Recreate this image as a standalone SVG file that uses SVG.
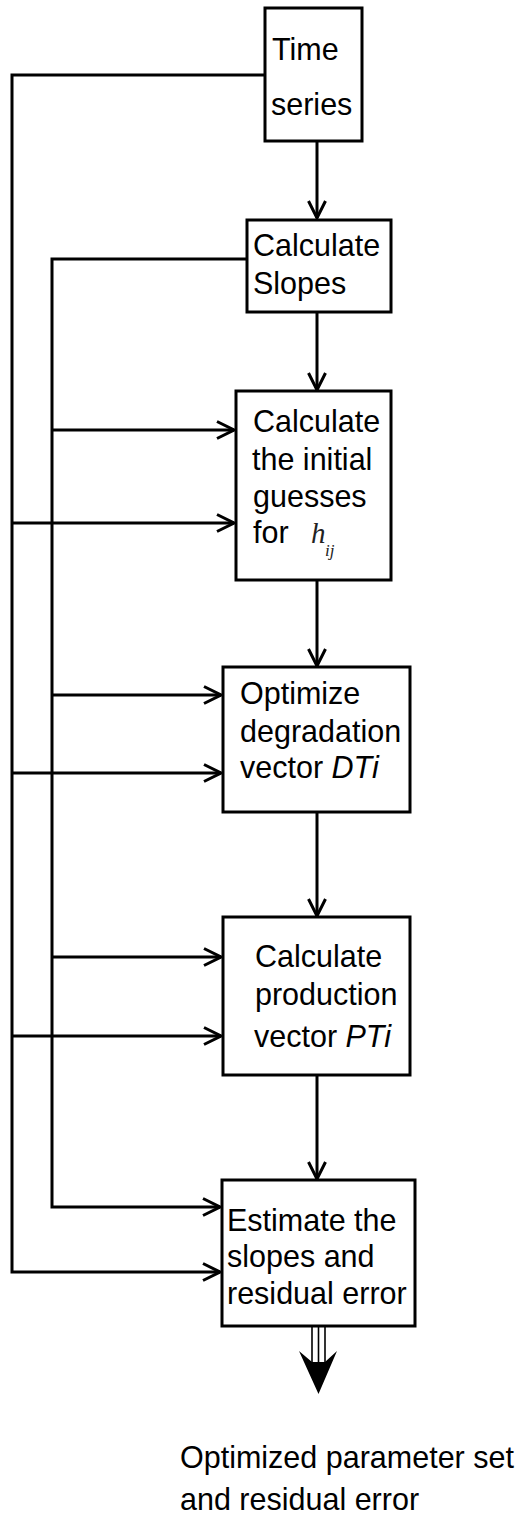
<svg xmlns="http://www.w3.org/2000/svg" width="528" height="1517" viewBox="0 0 528 1517">
<style>
.box{fill:#fff;stroke:#000;stroke-width:3}
.t{font-family:"Liberation Sans",Arial,sans-serif;font-size:30.5px;fill:#000}
.it{font-style:italic}
.ln{fill:none;stroke:#000;stroke-width:3}
.m{font-family:"Liberation Serif","Times New Roman",serif;font-style:italic;fill:#222}
</style>
<defs>
<marker id="ah" viewBox="0 0 20 20" refX="19" refY="10" markerWidth="20" markerHeight="20" markerUnits="userSpaceOnUse" orient="auto">
<path d="M2,1.5 L19,10 L2,18.5" fill="none" stroke="#000" stroke-width="3"/>
</marker>
</defs>
<rect width="528" height="1517" fill="#fff"/>
<g id="connectors">
<polyline class="ln" points="265,75 12,75 12,1272 220,1272" marker-end="url(#ah)"/>
<polyline class="ln" points="247,259 52,259 52,1207 220,1207" marker-end="url(#ah)"/>
<line class="ln" x1="12" y1="523" x2="234" y2="523" marker-end="url(#ah)"/>
<line class="ln" x1="52" y1="430" x2="234" y2="430" marker-end="url(#ah)"/>
<line class="ln" x1="12" y1="773" x2="221" y2="773" marker-end="url(#ah)"/>
<line class="ln" x1="52" y1="695" x2="221" y2="695" marker-end="url(#ah)"/>
<line class="ln" x1="12" y1="1036" x2="221" y2="1036" marker-end="url(#ah)"/>
<line class="ln" x1="52" y1="957" x2="221" y2="957" marker-end="url(#ah)"/>
<line class="ln" x1="317" y1="141" x2="317" y2="218" marker-end="url(#ah)"/>
<line class="ln" x1="317" y1="312" x2="317" y2="390" marker-end="url(#ah)"/>
<line class="ln" x1="317" y1="580" x2="317" y2="666" marker-end="url(#ah)"/>
<line class="ln" x1="317" y1="812" x2="317" y2="916" marker-end="url(#ah)"/>
<line class="ln" x1="317" y1="1075" x2="317" y2="1179" marker-end="url(#ah)"/>
<g id="output-arrow">
<line x1="312" y1="1327" x2="312" y2="1365" stroke="#000" stroke-width="1.6"/>
<line x1="318.5" y1="1327" x2="318.5" y2="1365" stroke="#000" stroke-width="1.6"/>
<line x1="325" y1="1327" x2="325" y2="1365" stroke="#000" stroke-width="1.6"/>
<path d="M299,1351 L312,1362 L325,1362 L337,1351 L318.5,1394 Z" fill="#000"/>
</g>
</g>
<g id="n1">
<rect class="box" x="265" y="8" width="97" height="133"/>
<text class="t" x="272" y="60">Time</text>
<text class="t" x="271" y="115">series</text>
</g>
<g id="n2">
<rect class="box" x="247" y="220" width="144" height="92"/>
<text class="t" x="253" y="256">Calculate</text>
<text class="t" x="253" y="294">Slopes</text>
</g>
<g id="n3">
<rect class="box" x="236" y="391" width="155" height="189"/>
<text class="t" x="253" y="432">Calculate</text>
<text class="t" x="252" y="470">the initial</text>
<text class="t" x="253" y="507">guesses</text>
<text class="t" x="253" y="543">for</text>
<text class="m" x="311" y="543" font-size="29">h</text>
<text class="m" x="325" y="556" font-size="17">ij</text>
</g>
<g id="n4">
<rect class="box" x="223" y="667" width="187" height="145"/>
<text class="t" x="240" y="704">Optimize</text>
<text class="t" x="240" y="742">degradation</text>
<text class="t" x="240" y="778">vector <tspan class="it">DTi</tspan></text>
</g>
<g id="n5">
<rect class="box" x="223" y="917" width="187" height="158"/>
<text class="t" x="255" y="967">Calculate</text>
<text class="t" x="255" y="1005">production</text>
<text class="t" x="254" y="1047">vector <tspan class="it">PTi</tspan></text>
</g>
<g id="n6">
<rect class="box" x="222" y="1180" width="193" height="146"/>
<text class="t" x="227" y="1231">Estimate the</text>
<text class="t" x="227" y="1267">slopes and</text>
<text class="t" x="227" y="1304">residual error</text>
</g>
<g id="output">
<text class="t" x="180" y="1468">Optimized parameter set</text>
<text class="t" x="180" y="1510">and residual error</text>
</g>
</svg>
